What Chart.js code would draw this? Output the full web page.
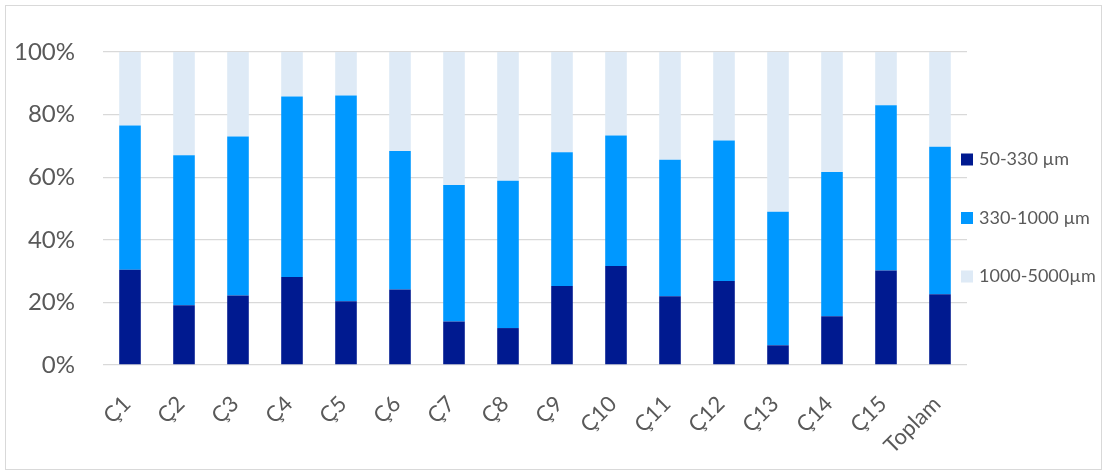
<!DOCTYPE html>
<html><head><meta charset="utf-8">
<script src="https://cdn.jsdelivr.net/npm/chart.js@4.4.1/dist/chart.umd.min.js"></script>
<style>
html,body{margin:0;padding:0;background:#fff;}
canvas{display:block;}
</style></head><body>
<canvas id="c" width="1107" height="475"></canvas>
<script>
const categories = ['Ç1','Ç2','Ç3','Ç4','Ç5','Ç6','Ç7','Ç8','Ç9','Ç10','Ç11','Ç12','Ç13','Ç14','Ç15','Toplam'];
const seriesNames = ['50-330 µm','330-1000 µm','1000-5000µm'];
const fine   = [30.4,19.1,22.2,28.1,20.4,24.1,13.9,11.8,25.2,31.6,22.0,26.8, 6.3,15.6,30.2,22.6];
const medium = [46.1,47.9,50.8,57.7,65.7,44.3,43.6,47.1,42.8,41.7,43.6,44.9,42.7,46.1,52.8,47.1];
const coarse = [23.5,33.0,27.0,14.2,13.9,31.6,42.5,41.1,32.0,26.7,34.4,28.3,51.0,38.3,17.0,30.3];
const yTicks = [0,20,40,60,80,100];

const colors = ['#001A90','#0098FF','#DEEAF6'];
const textColor = '#595959';
const fontFamily = 'Lato, "Open Sans", sans-serif';

const frame = {
  id:'frame',
  beforeDraw(chart){
    const c = chart.ctx;
    c.save();
    c.fillStyle = '#fff';
    c.fillRect(0,0,chart.width,chart.height);
    c.strokeStyle = '#d9d9d9';
    c.lineWidth = 1;
    c.strokeRect(5.5,5.5,chart.width-11,chart.height-11);
    c.restore();
  }
};
const sideLegend = {
  id:'sideLegend',
  afterDraw(chart){
    const c = chart.ctx, a = chart.chartArea;
    c.save();
    c.font = '18px ' + fontFamily;
    c.textBaseline = 'middle';
    c.textAlign = 'left';
    chart.data.datasets.forEach((ds,i)=>{
      const x = a.right - 6;
      const y = a.top + 107.5 + i*58.5;
      c.fillStyle = ds.backgroundColor;
      c.fillRect(x, y-6, 12, 12);
      c.fillStyle = textColor;
      c.fillText(ds.label, x+18, y);
    });
    c.restore();
  }
};

new Chart(document.getElementById('c'), {
  type:'bar',
  data:{
    labels: categories,
    datasets:[
      {label: seriesNames[0], data: fine,   backgroundColor: colors[0]},
      {label: seriesNames[1], data: medium, backgroundColor: colors[1]},
      {label: seriesNames[2], data: coarse, backgroundColor: colors[2]}
    ]
  },
  options:{
    responsive:false,
    devicePixelRatio:1,
    animation:false,
    layout:{padding:{left:0,right:140,top:52,bottom:0}},
    datasets:{bar:{categoryPercentage:1, barPercentage:0.4, borderWidth:0}},
    plugins:{legend:{display:false}, tooltip:{enabled:false}},
    scales:{
      x:{
        stacked:true,
        grid:{display:false, drawTicks:false},
        border:{display:false},
        ticks:{color:textColor, font:{family:fontFamily,size:22}, minRotation:45, maxRotation:45, autoSkip:false, padding:26, labelOffset:-3},
        afterFit(s){ s.height = 110; }
      },
      y:{
        stacked:true, min:0, max:100,
        afterBuildTicks(s){ s.ticks = yTicks.map(v=>({value:v})); },
        grid:{color:'#d9d9d9', lineWidth:1.3, drawTicks:false},
        border:{display:false},
        ticks:{color:textColor, font:{family:fontFamily,size:24}, padding:28, callback:v=>v+'%'},
        afterFit(s){ s.width = 103; }
      }
    }
  },
  plugins:[frame, sideLegend]
});
</script>
</body></html>
